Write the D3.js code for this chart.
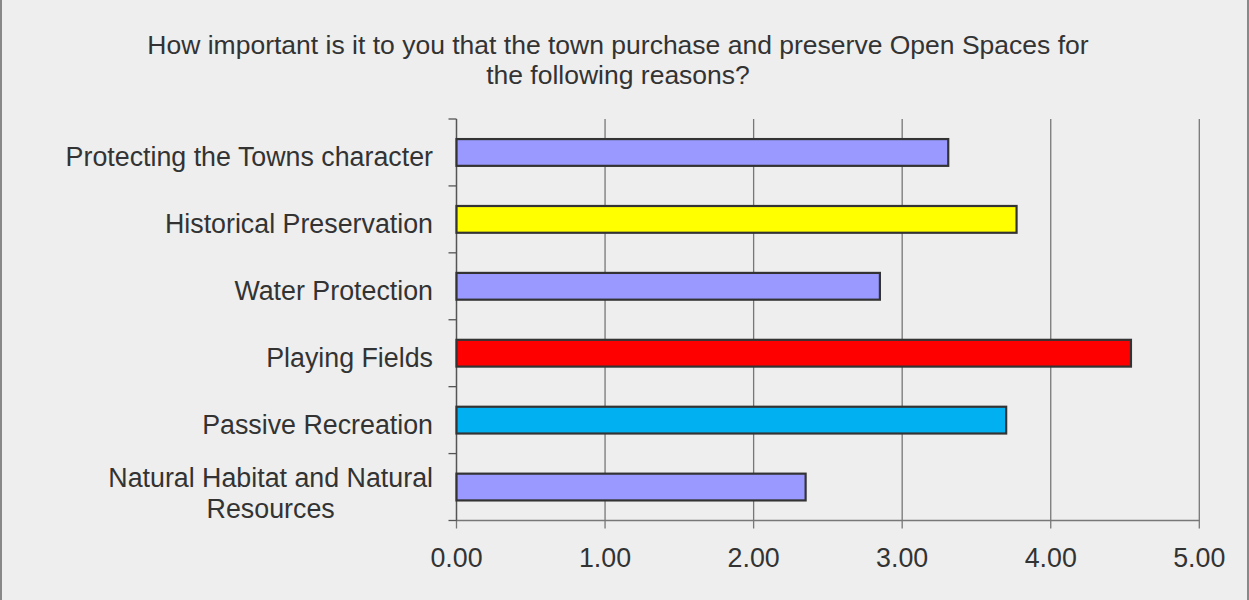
<!DOCTYPE html>
<html>
<head>
<meta charset="utf-8">
<script src="https://cdn.jsdelivr.net/npm/d3@7"></script>
<style>
  html, body { margin: 0; padding: 0; background: #eeeeee; }
  svg { display: block; font-family: "Liberation Sans", Arial, sans-serif; }
</style>
</head>
<body>
<div id="chart"></div>
<script>
// Chart data
const categories = [
    "Protecting the Towns character",
    "Historical Preservation",
    "Water Protection",
    "Playing Fields",
    "Passive Recreation",
    "Natural Habitat and Natural Resources"
];
const scores = [3.31, 3.77, 2.85, 4.54, 3.70, 2.35];
const barColors = ["#9999ff", "#ffff00", "#9999ff", "#ff0000", "#00b0f0", "#9999ff"];
const xTicks = [0, 1, 2, 3, 4, 5];
const titleLines = [
    "How important is it to you that the town purchase and preserve Open Spaces for",
    "the following reasons?"
];

const W = 1249, H = 600;
const margin = { top: 119, right: 50, bottom: 80, left: 456.5 };
const fontSize = "26.8px";

const svg = d3.select("#chart").append("svg")
    .attr("width", W)
    .attr("height", H);

// background + side borders
svg.append("rect")
    .attr("x", 1).attr("y", -5)
    .attr("width", W - 2).attr("height", H + 10)
    .attr("fill", "#eeeeee")
    .attr("stroke", "#888888")
    .attr("stroke-width", 2);

// title
svg.append("text")
    .attr("x", 618)
    .attr("y", 54)
    .attr("text-anchor", "middle")
    .style("font-size", "26.5px")
    .style("fill", "#333333")
    .selectAll("tspan")
    .data(titleLines)
    .enter().append("tspan")
    .attr("x", 618)
    .attr("dy", (d, i) => i === 0 ? 0 : 30)
    .text(d => d);

const x = d3.scaleLinear()
    .domain([0, 5])
    .range([margin.left, 1199.3]);

const y = d3.scaleBand()
    .domain(categories)
    .range([margin.top, 520.5])
    .paddingInner(0.6)
    .paddingOuter(0.3);

const step = y.step();
const plotTop = margin.top, plotBottom = 520.5;

// vertical gridlines (extend below axis as tick marks)
svg.append("g")
    .selectAll("line")
    .data(xTicks)
    .enter().append("line")
    .attr("x1", d => x(d)).attr("x2", d => x(d))
    .attr("y1", plotTop).attr("y2", plotBottom + 8)
    .attr("stroke", "#777777")
    .attr("stroke-width", 1.3);

// x tick labels
svg.append("g")
    .selectAll("text")
    .data(xTicks)
    .enter().append("text")
    .attr("x", d => x(d))
    .attr("y", 567)
    .attr("text-anchor", "middle")
    .style("font-size", fontSize)
    .style("fill", "#333333")
    .text(d => d3.format(".2f")(d));

// bottom axis line
svg.append("line")
    .attr("x1", x(0)).attr("x2", x(5))
    .attr("y1", plotBottom).attr("y2", plotBottom)
    .attr("stroke", "#777777")
    .attr("stroke-width", 1.3);

// left axis line and ticks at band boundaries
svg.append("line")
    .attr("x1", x(0)).attr("x2", x(0))
    .attr("y1", plotTop).attr("y2", plotBottom)
    .attr("stroke", "#555555")
    .attr("stroke-width", 1.3);

const boundaries = d3.range(categories.length + 1).map(i => plotTop + i * step);
svg.append("g")
    .selectAll("line")
    .data(boundaries)
    .enter().append("line")
    .attr("x1", x(0) - 8).attr("x2", x(0))
    .attr("y1", d => d).attr("y2", d => d)
    .attr("stroke", "#555555")
    .attr("stroke-width", 1.3);

// bars
svg.append("g")
    .selectAll("rect")
    .data(categories)
    .enter().append("rect")
    .attr("x", x(0))
    .attr("y", d => y(d))
    .attr("width", (d, i) => x(scores[i]) - x(0))
    .attr("height", y.bandwidth())
    .attr("fill", (d, i) => barColors[i])
    .attr("stroke", "#333333")
    .attr("stroke-width", 2.2);

// category labels (wrap the long one)
const labelLines = {
    "Natural Habitat and Natural Resources": ["Natural Habitat and Natural", "Resources"]
};
categories.forEach(c => {
    const cy = y(c) + y.bandwidth() / 2;
    const lines = labelLines[c] || [c];
    if (lines.length === 1) {
        svg.append("text")
            .attr("x", 433)
            .attr("y", cy + 14)
            .attr("text-anchor", "end")
            .style("font-size", fontSize)
            .style("fill", "#333333")
            .text(c);
    } else {
        const t = svg.append("text")
            .attr("y", cy)
            .attr("text-anchor", "middle")
            .style("font-size", fontSize)
            .style("fill", "#333333");
        t.selectAll("tspan").data(lines).enter().append("tspan")
            .attr("x", 0)
            .attr("dy", (d, i) => i === 0 ? 0 : 31)
            .text(d => d);
        // centre the lines as a block that is right-aligned at 433
        const w = t.node().getBBox().width;
        t.selectAll("tspan").attr("x", 433 - w / 2);
    }
});
</script>
</body>
</html>
